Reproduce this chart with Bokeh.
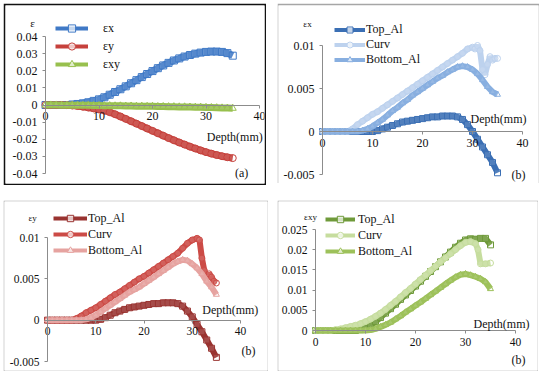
from bokeh.plotting import figure
from bokeh.models import Range1d, FixedTicker, Legend, LegendItem, Label
from bokeh.layouts import row, column
from bokeh.embed import file_html
from bokeh.resources import INLINE

# ---------------- data ----------------
depth = list(range(0, 36))

# panel (a): strains vs depth
ex = [0, 0, 0, 0, 0, 0.0003, 0.0006, 0.001, 0.0016, 0.0024, 0.0033, 0.0045, 0.006, 0.0076,
      0.0092, 0.0109, 0.0127, 0.0145, 0.0163, 0.0181, 0.0198, 0.0215, 0.0231, 0.0246, 0.026,
      0.0272, 0.0283, 0.0292, 0.03, 0.0306, 0.031, 0.0312, 0.0312, 0.031, 0.0303, 0.0288]
ey = [0, 0, 0, 0, -0.0001, -0.0003, -0.0006, -0.001, -0.0015, -0.002, -0.0026, -0.0033,
      -0.0042, -0.0054, -0.0067, -0.0081, -0.0095, -0.0109, -0.0123, -0.0137, -0.0151,
      -0.0165, -0.0179, -0.0193, -0.0206, -0.0219, -0.0231, -0.0243, -0.0254, -0.0265,
      -0.0275, -0.0284, -0.0292, -0.0299, -0.0305, -0.031]
exy = [0, 0, 0, -0.0001, -0.0001, -0.0001, -0.0002, -0.0002, -0.0002, -0.0003, -0.0003,
       -0.0004, -0.0004, -0.0005, -0.0005, -0.0006, -0.0006, -0.0007, -0.0007, -0.0008,
       -0.0008, -0.0009, -0.0009, -0.001, -0.001, -0.0011, -0.0011, -0.0012, -0.0013,
       -0.0013, -0.0014, -0.0015, -0.0016, -0.0017, -0.0018, -0.0019]

# panel εx
ex_top = [0] * 11 + [0.0001, 0.0003, 0.0005, 0.0007, 0.0009, 0.0011, 0.0012, 0.0013, 0.0014,
                     0.0015, 0.0016, 0.0017, 0.0017, 0.0018, 0.0018, 0.0018, 0.0017, 0.0014,
                     0.0008, 0.0, -0.0009, -0.0018, -0.0027, -0.0036, -0.0048]
ex_curv_depth = list(range(0, 30)) + [30, 30.5, 31, 31.5, 32, 32.5, 33, 33.5, 34, 34.5, 35]
ex_curv = [0] * 6 + [0.0003, 0.0008, 0.0012, 0.0016, 0.002, 0.0023, 0.0027, 0.0031, 0.0035,
                     0.0039, 0.0043, 0.0047, 0.0051, 0.0055, 0.0059, 0.0063, 0.0067, 0.0071,
                     0.0075, 0.0079, 0.0083, 0.0087, 0.0091, 0.0096,
                     0.0098, 0.0096, 0.01, 0.0094, 0.0072, 0.0066, 0.0078, 0.0087, 0.0083,
                     0.0085, 0.0085]
ex_bottom = [0] * 8 + [0.0001, 0.0003, 0.0006, 0.001, 0.0014, 0.0019, 0.0024, 0.0028, 0.0033,
                       0.0037, 0.0042, 0.0046, 0.005, 0.0054, 0.0058, 0.0062, 0.0065, 0.0069,
                       0.0072, 0.0075, 0.0076, 0.0075, 0.0072, 0.0067, 0.006, 0.0052, 0.0046,
                       0.0043]

# panel εy
ey_top = [0] * 11 + [0.0001, 0.0003, 0.0006, 0.0009, 0.0011, 0.0013, 0.0015, 0.0016, 0.0017,
                     0.0018, 0.0019, 0.002, 0.002, 0.0021, 0.0021, 0.0021, 0.002, 0.0017,
                     0.0011, 0.0004, -0.0005, -0.0014, -0.0024, -0.0034, -0.0045]
ey_curv_depth = list(range(0, 32)) + [31.5, 32, 32.5, 33, 33.5, 34, 34.5, 35]
ey_curv = [0] * 6 + [0.0002, 0.0005, 0.0009, 0.0012, 0.0015, 0.0019, 0.0023, 0.0027, 0.0031,
                     0.0034, 0.0038, 0.0042, 0.0046, 0.005, 0.0053, 0.0057, 0.0061, 0.0065,
                     0.0069, 0.0073, 0.0077, 0.0081, 0.0087, 0.0093, 0.0097, 0.0099,
                     0.0097, 0.0075, 0.006, 0.0052, 0.0056, 0.0052, 0.0047, 0.0045]
ey_bottom = [0] * 8 + [0.0001, 0.0003, 0.0006, 0.001, 0.0014, 0.0018, 0.0022, 0.0026, 0.003,
                       0.0034, 0.0037, 0.004, 0.0044, 0.0048, 0.0052, 0.0056, 0.006, 0.0064,
                       0.0068, 0.0071, 0.0073, 0.0072, 0.0068, 0.0063, 0.0056, 0.0047, 0.004,
                       0.0031]

# panel εxy
exy_top = [0] * 9 + [0.0002, 0.0006, 0.0013, 0.0022, 0.0032, 0.0043, 0.0054, 0.0065, 0.0077,
                     0.0088, 0.0099, 0.011, 0.0122, 0.0134, 0.0146, 0.0158, 0.017, 0.0182,
                     0.0194, 0.0206, 0.0216, 0.0224, 0.0227, 0.0226, 0.0228, 0.0228, 0.0212]
exy_curv_depth = list(range(0, 33)) + [32.5, 33, 34, 35]
exy_curv = [0] * 4 + [0.0002, 0.0004, 0.0007, 0.001, 0.0013, 0.0017, 0.0022, 0.0028, 0.0035,
                      0.0043, 0.0052, 0.0062, 0.0072, 0.0083, 0.0094, 0.0104, 0.0115, 0.0126,
                      0.0137, 0.0148, 0.0159, 0.017, 0.018, 0.019, 0.02, 0.021, 0.0218, 0.022,
                      0.0215, 0.02, 0.0165, 0.0165, 0.0167]
exy_bottom = [0] * 11 + [0.0001, 0.0004, 0.0009, 0.0014, 0.002, 0.0028, 0.0036, 0.0045,
                         0.0053, 0.0062, 0.007, 0.0079, 0.0088, 0.0097, 0.0106, 0.0115, 0.0124,
                         0.0132, 0.0138, 0.014, 0.0137, 0.0133, 0.0128, 0.012, 0.0103]

x_ticks = [0, 10, 20, 30, 40]
x_tick_labels = ["0", "10", "20", "30", "40"]
ya_ticks = [-0.04, -0.03, -0.02, -0.01, 0, 0.01, 0.02, 0.03, 0.04]
ya_tick_labels = ["-0.04", "-0.03", "-0.02", "-0.01", "0", "0.01", "0.02", "0.03", "0.04"]
yb_ticks = [-0.005, 0, 0.005, 0.01]
yb_tick_labels = ["-0.005", "0", "0.005", "0.01"]
yc_ticks = [0, 0.005, 0.01, 0.015, 0.02, 0.025]
yc_tick_labels = ["0", "0.005", "0.01", "0.015", "0.02", "0.025"]

SERIF = "'Liberation Serif', 'Times New Roman', serif"
AXIS_GREY = "#8c8c8c"
TXT = "#111111"


def lin(p0, v0, p1, v1, p):
    return v0 + (p - p0) * (v1 - v0) / (p1 - p0)


def make_fig(box, border, bcolor, xmap, ymap, ybounds, yticks, ylabels, label_size, margin):
    # box: (left, top, width, height) of the panel on the page, xmap/ymap: pixel anchors
    L, T, W, H = box
    fl, ft, fr, fb = L + border, T + border, L + W - border, T + H - border
    xr = Range1d(lin(*xmap, fl), lin(*xmap, fr))
    yr = Range1d(lin(*ymap, fb), lin(*ymap, ft))
    p = figure(frame_width=W - 2 * border, frame_height=H - 2 * border,
               min_border=border, min_border_left=border, min_border_right=border,
               min_border_top=border, min_border_bottom=border,
               x_range=xr, y_range=yr, output_backend="svg", toolbar_location=None)
    p.margin = margin
    p.grid.visible = False
    p.outline_line_color = None
    p.background_fill_color = "white"
    p.border_fill_color = bcolor
    for ax in (p.xaxis[0], p.yaxis[0]):
        ax.axis_line_color = AXIS_GREY
        ax.major_tick_line_color = AXIS_GREY
        ax.minor_tick_line_color = None
        ax.major_tick_out = 3
        ax.major_tick_in = 0
        ax.major_label_text_font = SERIF
        ax.major_label_text_font_size = label_size
        ax.major_label_text_color = TXT
    p.xaxis.ticker = FixedTicker(ticks=x_ticks)
    p.xaxis.major_label_overrides = dict(zip(x_ticks, x_tick_labels))
    p.xaxis.bounds = (0, 40)
    p.xaxis.fixed_location = 0
    p.xaxis.major_label_standoff = 4
    p.yaxis.ticker = FixedTicker(ticks=yticks)
    p.yaxis.major_label_overrides = dict(zip(yticks, ylabels))
    p.yaxis.bounds = ybounds
    p.yaxis.fixed_location = 0
    p.yaxis.major_label_standoff = 5
    return p


def add_series(p, xs, ys, color, marker, lw, msize):
    p.line(xs, ys, line_color=color, line_width=lw)
    p.scatter(xs, ys, marker=marker, size=msize, line_color=color, fill_color="white",
              fill_alpha=0.12, line_width=1)
    # hidden copies that only provide the legend sample (thinner line, hollow marker)
    l1 = p.line(xs, ys, line_color=color, line_width=4, visible=False)
    l2 = p.scatter(xs, ys, marker=marker, size=8, line_color=color, fill_color="white",
                   fill_alpha=0.7, line_width=1, visible=False)
    return [l1, l2]


def add_legend(p, items, loc, gw, gh, standoff, size):
    lg = Legend(items=[LegendItem(label=l, renderers=r) for l, r in items], location=loc,
                glyph_width=gw, glyph_height=gh, label_standoff=standoff, spacing=0,
                padding=0, margin=0, border_line_color=None, background_fill_alpha=0,
                label_text_font=SERIF, label_text_font_size=size, label_text_color=TXT,
                inactive_fill_alpha=0)
    p.add_layout(lg)


def add_text(p, x, y, text, size, align="left"):
    p.add_layout(Label(x=x, y=y, text=text, text_font=SERIF, text_font_size=size,
                       text_align=align, text_baseline="middle", text_color=TXT))


# ---- panel (a)
pa = make_fig((3, 3, 263, 182), 2, "#111111", (45, 0, 259, 40), (36, 0.04, 173, -0.04),
              (-0.04, 0.04), ya_ticks, ya_tick_labels, "12px", (3, 0, 0, 3))
ra = add_series(pa, depth, ex, "#3f79c6", "square", 7, 7)
rb = add_series(pa, depth, ey, "#c6413c", "circle", 7, 7)
rc = add_series(pa, depth, exy, "#98c04e", "triangle", 7, 7)
add_legend(pa, [("εx", ra), ("εy", rb), ("εxy", rc)], (50, 110), 33, 18, 15, "12px")
add_text(pa, -2.4, 0.048, "ε", "11px", "center")
add_text(pa, 40.6, -0.0187, "Depth(mm)", "12px", "right")
add_text(pa, 37.9, -0.0398, "(a)", "12px", "right")

# ---- panel εx
pb = make_fig((277, 3, 262, 180), 1, "#a6a6a6", (322, 0, 522, 40), (44, 0.01, 173, -0.005),
              (-0.005, 0.01), yb_ticks, yb_tick_labels, "12px", (3, 0, 0, 11))
r1 = add_series(pb, depth, ex_top, "#3b6fb4", "square", 6, 6)
r2 = add_series(pb, ex_curv_depth, ex_curv, "#bdd2ee", "circle", 6, 6)
r3 = add_series(pb, depth, ex_bottom, "#88afe0", "triangle", 6, 6)
add_legend(pb, [("Top_Al", r1), ("Curv", r2), ("Bottom_Al", r3)], (56, 116), 31, 15, 1, "12px")
add_text(pb, -3.0, 0.0125, "εx", "9px", "center")
add_text(pb, 40.8, 0.0014, "Depth(mm)", "12px", "right")
add_text(pb, 40.6, -0.005, "(b)", "12px", "right")

# ---- panel εy
pc = make_fig((3, 200, 265, 171), 1, "#a6a6a6", (47, 0, 240, 40), (237, 0.01, 361, -0.005),
              (-0.005, 0.01), yb_ticks, yb_tick_labels, "11.5px", (15, 0, 0, 3))
r1 = add_series(pc, depth, ey_top, "#993330", "square", 6, 6)
r2 = add_series(pc, ey_curv_depth, ey_curv, "#cc4b46", "circle", 6, 6)
r3 = add_series(pc, depth, ey_bottom, "#e6a3a0", "triangle", 6, 6)
add_legend(pc, [("Top_Al", r1), ("Curv", r2), ("Bottom_Al", r3)], (49, 112), 34, 16, 1, "12px")
add_text(pc, -3.1, 0.0124, "εy", "9px", "center")
add_text(pc, 43.7, 0.0012, "Depth(mm)", "12px", "right")
add_text(pc, 43.1, -0.0037, "(b)", "12px", "right")

# ---- panel εxy
pd = make_fig((277, 200, 261, 171), 1, "#a6a6a6", (315, 0, 515, 40), (229, 0.025, 330, 0),
              (0, 0.025), yc_ticks, yc_tick_labels, "11.5px", (15, 0, 0, 9))
r1 = add_series(pd, depth, exy_top, "#6f9a3a", "square", 6, 6)
r2 = add_series(pd, exy_curv_depth, exy_curv, "#c6dd9e", "circle", 6, 6)
r3 = add_series(pd, depth, exy_bottom, "#9dc15a", "triangle", 6, 6)
add_legend(pd, [("Top_Al", r1), ("Curv", r2), ("Bottom_Al", r3)], (47, 111), 30, 16, 3, "12px")
add_text(pd, -1.0, 0.0282, "εxy", "9px", "center")
add_text(pd, 42.8, 0.0017, "Depth(mm)", "12px", "right")
add_text(pd, 42.0, -0.0074, "(b)", "12px", "right")

layout = column(row(pa, pb), row(pc, pd))
open("out.html", "w").write(file_html(layout, INLINE))
